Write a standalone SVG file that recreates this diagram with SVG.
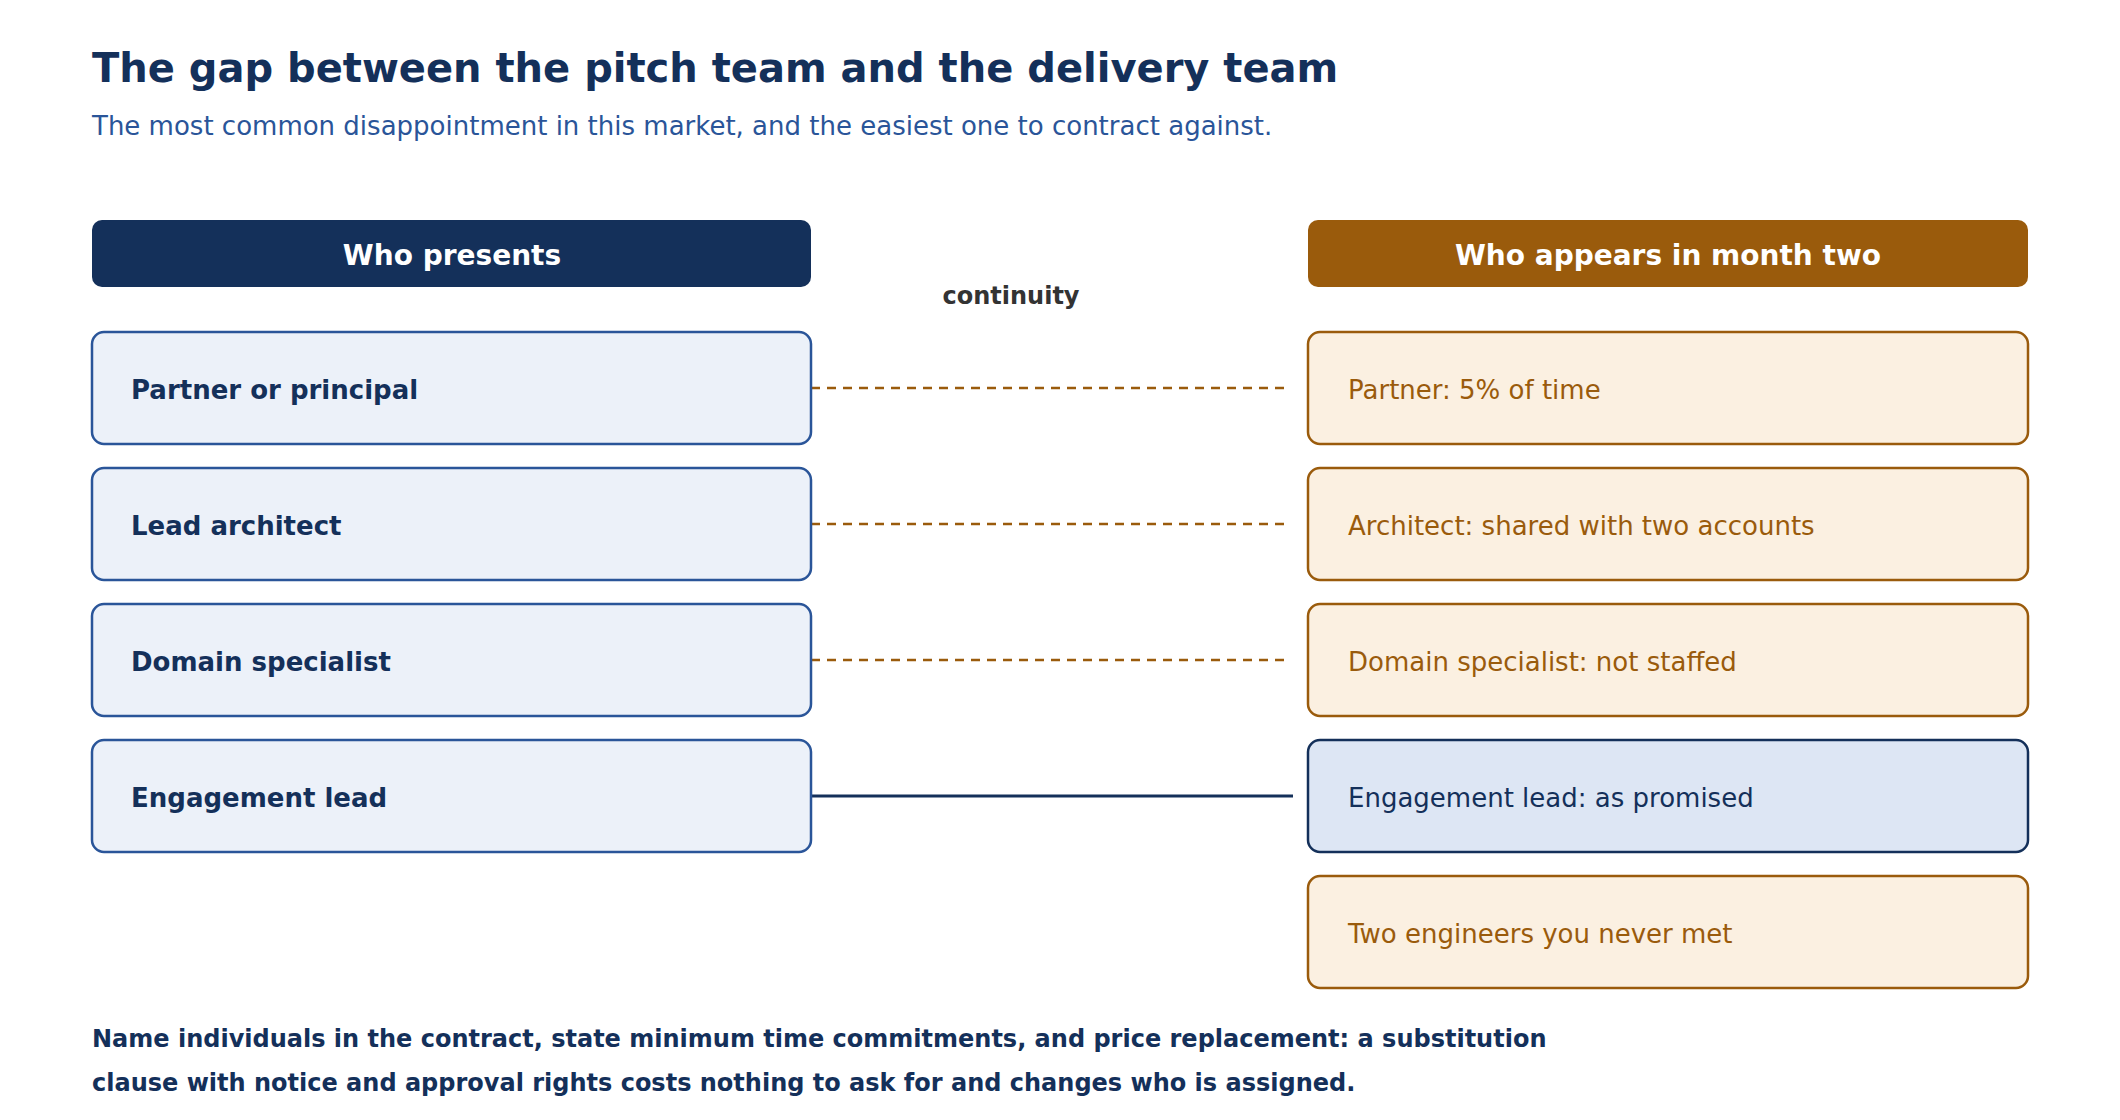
<svg xmlns="http://www.w3.org/2000/svg" width="2120" height="1120" viewBox="0 0 2120 1120">
<style>
text{font-family:"DejaVu Sans",sans-serif}
.lb{fill:#ecf1f9;stroke:#2a5599;stroke-width:2.5}
.rb{fill:#fbf0e1;stroke:#9a5b0c;stroke-width:2.5}
.hb{fill:#dde6f4;stroke:#14305a;stroke-width:2.5}
.lt{font-size:26px;font-weight:bold;fill:#14305a}
.rt{font-size:26px;fill:#9a5b0c}
.ht{font-size:28px;font-weight:bold;fill:#fff;text-anchor:middle}
.d{stroke:#9a5b0c;stroke-width:2.5;stroke-dasharray:9 7;fill:none}
.s{stroke:#14305a;stroke-width:3;fill:none}
.f{font-size:24px;font-weight:bold;fill:#14305a}
</style>
<rect width="2120" height="1120" fill="#fff"/>
<text x="92" y="82" font-size="40" font-weight="bold" fill="#14305a">The gap between the pitch team and the delivery team</text>
<text x="92" y="135" font-size="26" fill="#2a5599">The most common disappointment in this market, and the easiest one to contract against.</text>
<g id="hdr-left"><rect x="92" y="220" width="719" height="67" rx="10" fill="#14305a"/><text class="ht" x="452" y="265">Who presents</text></g>
<g id="hdr-right"><rect x="1308" y="220" width="720" height="67" rx="10" fill="#9a5b0c"/><text class="ht" x="1668" y="265">Who appears in month two</text></g>
<text x="1011" y="304" font-size="24" font-weight="bold" fill="#333" text-anchor="middle">continuity</text>
<g id="connectors">
<line class="d" x1="811" y1="388" x2="1290" y2="388"/>
<line class="d" x1="811" y1="524" x2="1290" y2="524"/>
<line class="d" x1="811" y1="660" x2="1290" y2="660"/>
<line class="s" x1="811" y1="796" x2="1293" y2="796"/>
</g>
<g id="l1"><rect class="lb" x="92" y="332" width="719" height="112" rx="12"/><text class="lt" x="131" y="399">Partner or principal</text></g>
<g id="l2"><rect class="lb" x="92" y="468" width="719" height="112" rx="12"/><text class="lt" x="131" y="535">Lead architect</text></g>
<g id="l3"><rect class="lb" x="92" y="604" width="719" height="112" rx="12"/><text class="lt" x="131" y="671">Domain specialist</text></g>
<g id="l4"><rect class="lb" x="92" y="740" width="719" height="112" rx="12"/><text class="lt" x="131" y="807">Engagement lead</text></g>
<g id="r1"><rect class="rb" x="1308" y="332" width="720" height="112" rx="12"/><text class="rt" x="1348" y="399">Partner: 5% of time</text></g>
<g id="r2"><rect class="rb" x="1308" y="468" width="720" height="112" rx="12"/><text class="rt" x="1348" y="535">Architect: shared with two accounts</text></g>
<g id="r3"><rect class="rb" x="1308" y="604" width="720" height="112" rx="12"/><text class="rt" x="1348" y="671">Domain specialist: not staffed</text></g>
<g id="r4"><rect class="hb" x="1308" y="740" width="720" height="112" rx="12"/><text class="rt" x="1348" y="807" fill="#14305a" style="fill:#14305a">Engagement lead: as promised</text></g>
<g id="r5"><rect class="rb" x="1308" y="876" width="720" height="112" rx="12"/><text class="rt" x="1348" y="943">Two engineers you never met</text></g>
<text class="f" x="92" y="1047">Name individuals in the contract, state minimum time commitments, and price replacement: a substitution</text>
<text class="f" x="92" y="1091">clause with notice and approval rights costs nothing to ask for and changes who is assigned.</text>
</svg>
